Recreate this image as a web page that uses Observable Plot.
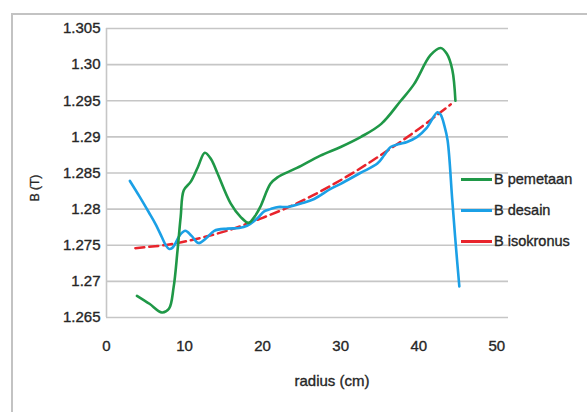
<!DOCTYPE html>
<html><head><meta charset="utf-8">
<script src="https://cdn.jsdelivr.net/npm/d3@7"></script>
<script src="https://cdn.jsdelivr.net/npm/@observablehq/plot@0.6"></script>
<style>
html,body{margin:0;padding:0;background:#fff;overflow:hidden;}
#wrap{position:relative;width:587px;height:412px;overflow:hidden;font-family:"Liberation Sans",Arial,sans-serif;color:#262626;}
#frame{position:absolute;left:11px;top:13px;width:700px;height:500px;border:2px solid #c3c3c3;box-sizing:border-box;}
#chart{position:absolute;left:0;top:0;}
#chart svg text{stroke:#262626;stroke-width:0.35px;}
#legend{position:absolute;left:461px;top:163.5px;font-size:14.5px;-webkit-text-stroke:0.35px #262626;}
.item{display:flex;align-items:center;height:31px;white-space:nowrap;}
.sw{width:31px;height:3px;margin-right:2px;}
#xlab{position:absolute;left:332px;top:380px;transform:translate(-50%,-50%);font-size:15px;white-space:nowrap;-webkit-text-stroke:0.35px #262626;}
#ylab{position:absolute;left:35px;top:188px;transform:translate(-50%,-50%) rotate(-90deg);font-size:12px;white-space:nowrap;-webkit-text-stroke:0.3px #262626;}
</style></head>
<body>
<div id="wrap">
  <div id="frame"></div>
  <div id="chart"></div>
  <div id="legend"></div>
  <div id="xlab"></div>
  <div id="ylab"></div>
</div>
<script>
// Tick labels
const xTicks = [0, 10, 20, 30, 40, 50];
const yTicks = [1.265, 1.27, 1.275, 1.28, 1.285, 1.29, 1.295, 1.30, 1.305];
const yLabels = ["1.265", "1.27", "1.275", "1.28", "1.285", "1.29", "1.295", "1.30", "1.305"];
const xTitle = "radius (cm)";
const yTitle = "B (T)";

// Series
const seriesNames = ["B pemetaan", "B desain", "B isokronus"];
const seriesColors = ["#1f9847", "#1ba0e6", "#e8242c"];

const pemetaanR = [3.9,5.5,7.1,8.0,8.6,9.1,9.5,9.9,10.8,11.7,12.6,13.4,14.2,15.9,17.2,18.2,19.0,19.7,21.0,21.9,24.4,27.4,30.0,32.6,35.2,37.7,39.4,41.5,42.8,43.6,44.3,44.7];
const pemetaanB = [1.2680,1.2669,1.2657,1.2662,1.2692,1.2743,1.2789,1.2826,1.2838,1.2858,1.2878,1.2869,1.2850,1.2808,1.2789,1.2781,1.2790,1.2803,1.2835,1.2844,1.2857,1.2874,1.2886,1.2900,1.2918,1.2950,1.2973,1.3013,1.3023,1.3015,1.2993,1.2950];

const desainR = [3.0,4.2,5.4,6.3,7.1,7.6,8.0,8.4,8.8,9.4,10.1,10.9,11.8,12.8,13.8,15.5,17.0,18.0,19.3,20.2,21.0,22.0,23.2,25.0,26.6,28.7,30.0,32.5,34.7,35.6,36.4,37.5,38.5,39.8,41.0,42.4,42.8,43.3,43.7,44.3,44.75,45.2];
const desainB = [1.2839,1.2818,1.2796,1.2779,1.2761,1.2750,1.2745,1.2746,1.2752,1.2764,1.2770,1.2763,1.2753,1.2760,1.2770,1.2773,1.2774,1.2777,1.2787,1.2797,1.2800,1.2803,1.2803,1.2808,1.2814,1.2828,1.2835,1.2850,1.2863,1.2875,1.2886,1.2890,1.2893,1.2900,1.2912,1.2934,1.2931,1.2915,1.2895,1.2812,1.2750,1.2693];

const isokronusR = [3.7,8,12,16,20,24,28,32,36,40,44.1];
const isokronusB = [1.2746,1.2751,1.2760,1.2772,1.2788,1.2806,1.2828,1.2853,1.2881,1.2911,1.2945];

const toRows = (rs, bs) => rs.map((r, i) => ({r, b: bs[i]}));
const pem = toRows(pemetaanR, pemetaanB);
const des = toRows(desainR, desainB);
const iso = toRows(isokronusR, isokronusB);

const grid = "#c6c6c6";
const chart = Plot.plot({
  width: 587, height: 412,
  marginLeft: 106, marginRight: 79, marginTop: 28, marginBottom: 95,
  style: {fontFamily: '"Liberation Sans", Arial, sans-serif', fontSize: "15px", color: "#262626", background: "transparent"},
  x: {domain: [0, 51.5]},
  y: {domain: [1.265, 1.305]},
  marks: [
    Plot.gridY(yTicks, {stroke: grid, strokeOpacity: 1, strokeWidth: 1.6}),
    Plot.ruleX([0], {stroke: grid, strokeWidth: 1.6}),
    Plot.axisY(yTicks, {tickSize: 0, tickPadding: 6, tickFormat: (d, i) => yLabels[i], label: null, fontSize: 15}),
    Plot.axisX(xTicks, {tickSize: 0, tickPadding: 23, label: null, fontSize: 15}),
    Plot.line(iso, {x: "r", y: "b", stroke: seriesColors[2], strokeWidth: 2.5, strokeDasharray: "9,5", curve: "catmull-rom"}),
    Plot.line(des, {x: "r", y: "b", stroke: seriesColors[1], strokeWidth: 2.6, curve: "catmull-rom"}),
    Plot.line(pem, {x: "r", y: "b", stroke: seriesColors[0], strokeWidth: 2.6, curve: "catmull-rom"})
  ]
});
document.getElementById("chart").appendChild(chart);

const leg = document.getElementById("legend");
seriesNames.forEach((n, i) => {
  const it = document.createElement("div");
  it.className = "item";
  const sw = document.createElement("div");
  sw.className = "sw";
  sw.style.background = seriesColors[i];
  const t = document.createElement("span");
  t.textContent = n;
  it.appendChild(sw); it.appendChild(t);
  leg.appendChild(it);
});
document.getElementById("xlab").textContent = xTitle;
document.getElementById("ylab").textContent = yTitle;
</script>
</body></html>
